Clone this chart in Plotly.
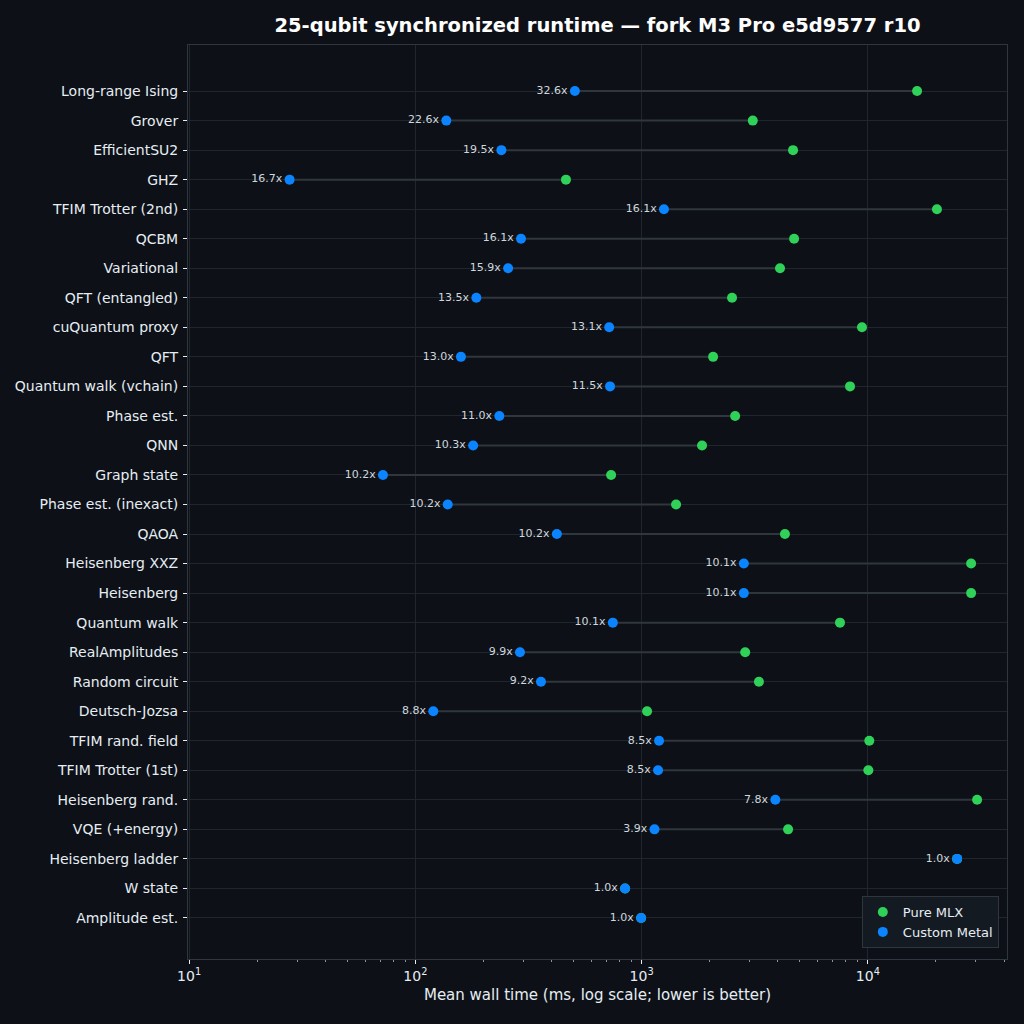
#!/usr/bin/env python

import plotly.graph_objects as go

# circuits, top to bottom
circuits = ['Long-range Ising', 'Grover', 'EfficientSU2', 'GHZ', 'TFIM Trotter (2nd)',
            'QCBM', 'Variational', 'QFT (entangled)', 'cuQuantum proxy', 'QFT',
            'Quantum walk (vchain)', 'Phase est.', 'QNN', 'Graph state',
            'Phase est. (inexact)', 'QAOA', 'Heisenberg XXZ', 'Heisenberg',
            'Quantum walk', 'RealAmplitudes', 'Random circuit', 'Deutsch-Jozsa',
            'TFIM rand. field', 'TFIM Trotter (1st)', 'Heisenberg rand.',
            'VQE (+energy)', 'Heisenberg ladder', 'W state', 'Amplitude est.']

# mean wall time in ms
pure_mlx = [16500, 3100, 4670, 463, 20200,
            4720, 4090, 2510, 9420, 2070,
            8340, 2590, 1850, 733,
            1420, 4300, 28600, 28600,
            7530, 2870, 3300, 1057,
            10150, 10050, 30400,
            4440, 24800, 845, 995]
custom_metal = [507, 137, 240, 27.8, 1255,
                293, 257, 186, 719, 159,
                725, 235, 180, 71.9,
                139, 422, 2830, 2830,
                746, 290, 359, 120,
                1194, 1182, 3900,
                1140, 24800, 845, 995]
speedups = ['32.6x', '22.6x', '19.5x', '16.7x', '16.1x',
            '16.1x', '15.9x', '13.5x', '13.1x', '13.0x',
            '11.5x', '11.0x', '10.3x', '10.2x',
            '10.2x', '10.2x', '10.1x', '10.1x',
            '10.1x', '9.9x', '9.2x', '8.8x',
            '8.5x', '8.5x', '7.8x',
            '3.9x', '1.0x', '1.0x', '1.0x']

major_ticks = [10, 100, 1000, 10000]
major_labels = ['10<sup>1</sup>', '10<sup>2</sup>', '10<sup>3</sup>', '10<sup>4</sup>']
minor_ticks = [m * d for d in (10, 100, 1000, 10000) for m in range(2, 10)]

BG = '#0d1117'
GRID = '#1f262e'
LINE = '#30363d'
TEXT = '#e6edf3'
GREEN = '#30d158'
BLUE = '#0a84ff'


def main():
    seg_x, seg_y = [], []
    for name, a, b in zip(circuits, custom_metal, pure_mlx):
        seg_x += [a, b, None]
        seg_y += [name, name, None]

    fig = go.Figure()
    fig.add_trace(go.Scatter(x=seg_x, y=seg_y, mode='lines',
                             line=dict(color=LINE, width=2),
                             showlegend=False, hoverinfo='skip'))
    fig.add_trace(go.Scatter(x=pure_mlx, y=circuits, mode='markers', name='Pure MLX',
                             marker=dict(color=GREEN, size=10)))
    fig.add_trace(go.Scatter(x=custom_metal, y=circuits, mode='markers+text',
                             name='Custom Metal', text=speedups,
                             textposition='middle left',
                             textfont=dict(size=11, color='#d0d7de'),
                             marker=dict(color=BLUE, size=10)))

    fig.update_layout(
        width=1024, height=1024,
        paper_bgcolor=BG, plot_bgcolor=BG,
        font=dict(family='DejaVu Sans', color=TEXT, size=14),
        margin=dict(l=188, r=17, t=45, b=65),
        title=dict(text='<b>25-qubit synchronized runtime — fork M3 Pro e5d9577 r10</b>',
                   xref='paper', x=0.5, xanchor='center',
                   y=0.975, yanchor='middle',
                   font=dict(size=19.5, color='#ffffff')),
        legend=dict(x=0.99, y=0.012, xanchor='right', yanchor='bottom',
                    bgcolor='#141a22', bordercolor=LINE, borderwidth=1,
                    font=dict(size=13, color=TEXT)),
    )
    fig.update_xaxes(type='log', range=[0.995, 4.615],
                     tickvals=major_ticks, ticktext=major_labels,
                     ticks='outside', ticklen=4, tickcolor=TEXT,
                     minor=dict(tickvals=minor_ticks, ticks='outside', ticklen=2,
                                tickcolor='#8b949e', showgrid=False),
                     showgrid=True, gridcolor=GRID, gridwidth=1,
                     showline=True, linecolor=LINE, linewidth=1, mirror=True,
                     zeroline=False,
                     title=dict(text='Mean wall time (ms, log scale; lower is better)',
                                font=dict(size=15), standoff=6))
    fig.update_yaxes(type='category', categoryorder='array', categoryarray=circuits,
                     range=[len(circuits) - 1 + 1.39, -1.56],
                     ticks='outside', ticklen=4, tickcolor=TEXT,
                     ticklabelstandoff=2,
                     showgrid=True, gridcolor=GRID, gridwidth=1,
                     showline=True, linecolor=LINE, linewidth=1, mirror=True,
                     zeroline=False)

    fig.write_html('out.html',
                   config={'displayModeBar': False},
                   post_script="document.body.style.margin='0';"
                               "document.body.style.background='#0d1117';")


if __name__ == '__main__':
    main()
